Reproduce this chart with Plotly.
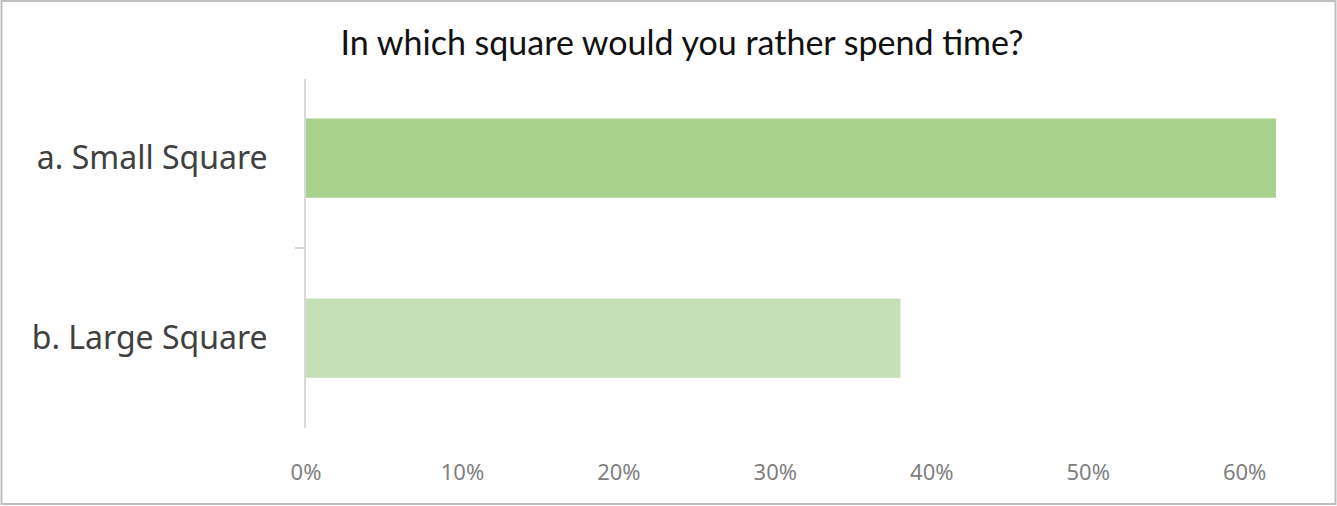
import plotly.graph_objects as go

categories = ["a. Small Square", "b. Large Square"]
values = [0.62, 0.38]
bar_colors = ["#A9D18E", "#C5E0B4"]
title_text = "In which square would you rather spend time?"

W, H = 1337, 506
L, R, T, B = 306, 47, 79, 78
pw, ph = W - L - R, H - T - B

def px_x(px):
    return (px - L) / pw

def px_y(py):
    return (H - B - py) / ph

fig = go.Figure()
fig.add_trace(go.Bar(
    y=categories, x=values, orientation="h",
    marker=dict(color=bar_colors, line=dict(width=0)),
    width=0.44, hoverinfo="skip",
))

fig.update_layout(
    width=W, height=H,
    margin=dict(l=L, r=R, t=T, b=B, pad=0),
    paper_bgcolor="white", plot_bgcolor="white",
    showlegend=False,
    title=dict(text=title_text, x=(336 + 1028) / 2 / W, xanchor="center",
               y=1 - 43 / H, yanchor="middle",
               font=dict(family="Lato", size=34, color="#111111")),
    xaxis=dict(range=[0, 0.629], dtick=0.1, tick0=0, tickformat=".0%",
               showgrid=False, zeroline=False, showline=False, ticks="",
               ticklabelstandoff=29,
               tickfont=dict(family="Noto Sans", size=22, color="#7F7F7F")),
    yaxis=dict(type="category", categoryorder="array", categoryarray=categories,
               range=[1.5, -0.44], showgrid=False, zeroline=False,
               showline=True, linecolor="#D9D9D9", linewidth=2,
               ticks="outside", ticklen=9, tickcolor="#D9D9D9", tickwidth=2,
               tickson="boundaries", ticklabelstandoff=30,
               tickfont=dict(family="Noto Sans", size=32, color="#404040")),
    shapes=[dict(type="rect", xref="paper", yref="paper",
                 x0=px_x(1.5), x1=px_x(1335.5), y0=px_y(504), y1=px_y(1),
                 line=dict(color="#BFBFBF", width=2), fillcolor="rgba(0,0,0,0)",
                 layer="below")],
)

fig.write_html("out.html")
